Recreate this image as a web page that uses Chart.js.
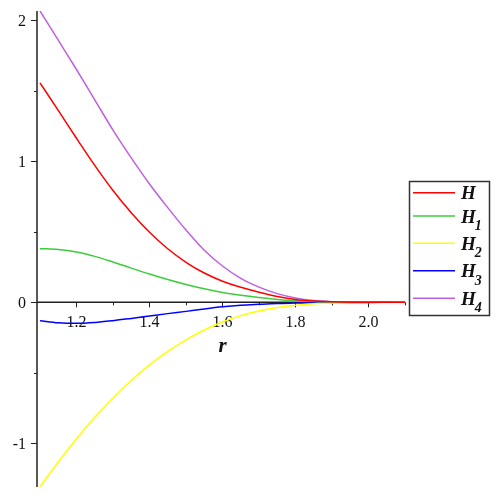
<!DOCTYPE html>
<html>
<head>
<meta charset="utf-8">
<script src="https://cdn.jsdelivr.net/npm/chart.js@4.4.0/dist/chart.umd.min.js"></script>
<style>
  html, body { margin: 0; padding: 0; background: #fff; }
  #wrap { width: 498px; height: 498px; }
</style>
</head>
<body>
<div id="wrap"><canvas id="hChart"></canvas></div>
<script>
// r values along the x axis
const rValues = [1.1, 1.15, 1.2, 1.25, 1.3, 1.35, 1.4, 1.45, 1.5, 1.55, 1.6,
                 1.65, 1.7, 1.75, 1.8, 1.85, 1.9, 1.95, 2.0, 2.05, 2.1];

// series
const hValues  = [1.557, 1.362, 1.164, 0.972, 0.794, 0.636, 0.497, 0.38, 0.284, 0.208, 0.15,
                  0.107, 0.072, 0.042, 0.02, 0.009, 0.004, 0.0015, 0.0005, 0.0001, 0];
const h1Values = [0.381, 0.375, 0.357, 0.326, 0.286, 0.243, 0.201, 0.162, 0.127, 0.096, 0.07,
                  0.05, 0.034, 0.021, 0.012, 0.006, 0.003, 0.001, 0.0003, 0.0001, 0];
const h2Values = [-1.308, -1.133, -0.968, -0.816, -0.678, -0.554, -0.444, -0.348, -0.266, -0.196, -0.139,
                  -0.094, -0.061, -0.037, -0.02, -0.01, -0.005, -0.002, -0.001, -0.0003, 0];
const h3Values = [-0.13, -0.145, -0.149, -0.143, -0.13, -0.114, -0.097, -0.08, -0.064, -0.047, -0.032,
                  -0.021, -0.014, -0.008, -0.005, -0.002, -0.001, -0.0005, -0.0002, 0, 0];
const h4Values = [2.067, 1.86, 1.652, 1.437, 1.222, 1.025, 0.84, 0.672, 0.513, 0.37, 0.258,
                  0.17, 0.108, 0.062, 0.031, 0.013, 0.005, 0.002, 0.0006, 0.0002, 0];

const seriesNames = ['H', 'H1', 'H2', 'H3', 'H4'];
const seriesColors = ['#ff0000', '#3ccc3c', '#ffff00', '#0000ff', '#c060e0'];

// ticks
const xMajorTicks = [1.2, 1.4, 1.6, 1.8, 2.0];
const xTickLabels = ['1.2', '1.4', '1.6', '1.8', '2.0'];
const xMinorTicks = [1.3, 1.5, 1.7, 1.9, 2.1];
const yMajorTicks = [-1, 0, 1, 2];
const yTickLabels = ['-1', '0', '1', '2'];
const yMinorTicks = [-0.5, 0.5, 1.5];

const allSeries = [hValues, h1Values, h2Values, h3Values, h4Values];
const toPoints = (vals) => vals.map((v, i) => ({ x: rValues[i], y: v }));

const SERIF = '"Liberation Serif", "Times New Roman", serif';

// axes through the origin, drawn under the curves
const axesPlugin = {
  id: 'axesPlugin',
  beforeDatasetsDraw(chart) {
    const { ctx, chartArea, scales } = chart;
    const xs = scales.x, ys = scales.y;
    const y0 = ys.getPixelForValue(0);
    ctx.save();
    ctx.strokeStyle = '#222';
    ctx.lineWidth = 1.5;
    ctx.beginPath();
    ctx.moveTo(chartArea.left, chartArea.top);
    ctx.lineTo(chartArea.left, chartArea.bottom);
    ctx.moveTo(chartArea.left, y0);
    ctx.lineTo(chartArea.right, y0);
    ctx.stroke();

    ctx.lineWidth = 1;
    ctx.beginPath();
    xMajorTicks.forEach(t => {
      const px = Math.round(xs.getPixelForValue(t)) + 0.5;
      ctx.moveTo(px, y0); ctx.lineTo(px, y0 + 5);
    });
    xMinorTicks.forEach(t => {
      const px = Math.round(xs.getPixelForValue(t)) + 0.5;
      ctx.moveTo(px, y0); ctx.lineTo(px, y0 + 3);
    });
    yMajorTicks.forEach(t => {
      const py = Math.round(ys.getPixelForValue(t)) + 0.5;
      ctx.moveTo(chartArea.left - 6, py); ctx.lineTo(chartArea.left, py);
    });
    yMinorTicks.forEach(t => {
      const py = Math.round(ys.getPixelForValue(t)) + 0.5;
      ctx.moveTo(chartArea.left - 3, py); ctx.lineTo(chartArea.left, py);
    });
    ctx.stroke();

    ctx.fillStyle = '#111';
    ctx.font = '16px ' + SERIF;
    ctx.textAlign = 'center';
    ctx.textBaseline = 'alphabetic';
    xMajorTicks.forEach((t, i) => {
      ctx.fillText(xTickLabels[i], xs.getPixelForValue(t), y0 + 25);
    });
    ctx.textAlign = 'right';
    ctx.textBaseline = 'middle';
    yMajorTicks.forEach((t, i) => {
      ctx.fillText(yTickLabels[i], chartArea.left - 11, ys.getPixelForValue(t) + 1);
    });

    ctx.font = 'bold italic 21px ' + SERIF;
    ctx.textAlign = 'center';
    ctx.textBaseline = 'alphabetic';
    ctx.fillText('r', xs.getPixelForValue(1.6), y0 + 50);
    ctx.restore();
  }
};

// boxed legend on the right with subscripted names
const legendBox = {
  id: 'legendBox',
  afterDraw(chart) {
    const { ctx } = chart;
    const rowY = [192.7, 216, 243.3, 270.7, 298.3];
    ctx.save();
    ctx.strokeStyle = '#333';
    ctx.lineWidth = 1.5;
    ctx.strokeRect(409.5, 181.5, 80, 134);
    chart.data.datasets.forEach((ds, i) => {
      const y = rowY[i];
      ctx.strokeStyle = ds.borderColor;
      ctx.lineWidth = 1.5;
      ctx.beginPath();
      ctx.moveTo(413, y); ctx.lineTo(455, y);
      ctx.stroke();
      ctx.fillStyle = '#111';
      ctx.textAlign = 'left';
      ctx.textBaseline = 'alphabetic';
      ctx.font = 'bold italic 19px ' + SERIF;
      const main = ds.label.charAt(0);
      ctx.fillText(main, 461, y + 6.5);
      const sub = ds.label.slice(1);
      if (sub) {
        const w = ctx.measureText(main).width;
        ctx.font = 'bold italic 14px ' + SERIF;
        ctx.fillText(sub, 461 + w - 1, y + 14);
      }
    });
    ctx.restore();
  }
};

new Chart(document.getElementById('hChart'), {
  type: 'line',
  data: {
    datasets: allSeries.map((vals, i) => ({
      label: seriesNames[i],
      data: toPoints(vals),
      borderColor: seriesColors[i],
      borderWidth: 1.5,
      pointRadius: 0,
      fill: false,
      cubicInterpolationMode: 'monotone'
    }))
  },
  options: {
    responsive: true,
    maintainAspectRatio: false,
    animation: false,
    layout: { padding: { left: 37, top: 11, right: 93, bottom: 11 } },
    scales: {
      x: { type: 'linear', min: 1.0918, max: 2.1, display: false },
      y: { type: 'linear', min: -1.31, max: 2.067, display: false }
    },
    plugins: {
      legend: { display: false },
      tooltip: { enabled: false }
    }
  },
  plugins: [axesPlugin, legendBox]
});
</script>
</body>
</html>
